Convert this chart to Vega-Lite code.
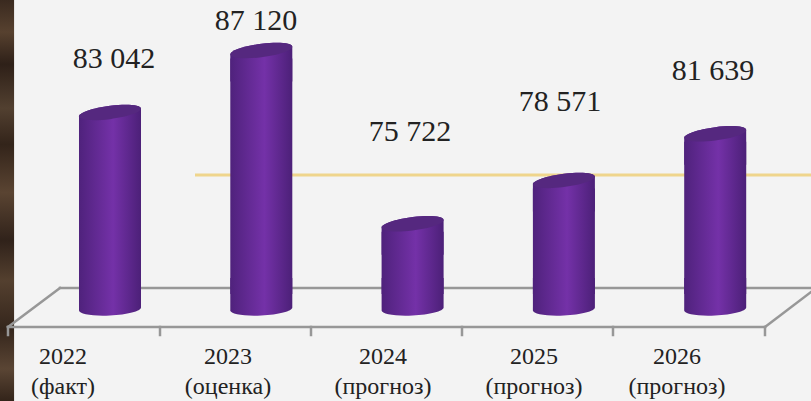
{"$schema":"https://vega.github.io/schema/vega-lite/v6.json","width":811,"height":401,"padding":0,"autosize":"none","background":"#f3f3f3","config":{"view":{"stroke":null}},
"datasets":{
"bars":[{"x":0,"y":83042,"base":70115,"lx":0.0264,"ly":86562,"label":"83 042"},{"x":1,"y":87120,"base":70115,"lx":0.965,"ly":89062,"label":"87 120"},{"x":2,"y":75722,"base":70115,"lx":1.9828,"ly":81759,"label":"75 722"},{"x":3,"y":78571,"base":70115,"lx":2.9742,"ly":83733,"label":"78 571"},{"x":4,"y":81639,"base":70115,"lx":3.9855,"ly":85772,"label":"81 639"}],
"strip":[{"x":-0.72703,"x2":-0.634,"y":90443,"y2":64061}],
"floor":[{"seg":"back","x":-0.3305,"y":71496},{"seg":"back","x":4.6332,"y":71496},{"seg":"front","x":-0.6742,"y":68930},{"seg":"front","x":4.3291,"y":68930},{"seg":"left","x":-0.6742,"y":68930},{"seg":"left","x":-0.3305,"y":71496},{"seg":"right","x":4.3291,"y":68930},{"seg":"right","x":4.6332,"y":71233},{"seg":"t0","x":-0.6742,"y":68930},{"seg":"t0","x":-0.6742,"y":68403},{"seg":"t1","x":0.3305,"y":68930},{"seg":"t1","x":0.3305,"y":68403},{"seg":"t2","x":1.3285,"y":68930},{"seg":"t2","x":1.3285,"y":68403},{"seg":"t3","x":2.3265,"y":68930},{"seg":"t3","x":2.3265,"y":68403},{"seg":"t4","x":3.3245,"y":68930},{"seg":"t4","x":3.3245,"y":68403},{"seg":"t5","x":4.3291,"y":68930},{"seg":"t5","x":4.3291,"y":68403}],
"gold":[{"x":0.5618,"y":78930},{"x":4.6332,"y":78930}],
"cats":[{"x":-0.3106,"y":66956,"t":"2022"},{"x":-0.3106,"y":64983,"t":"(факт)"},{"x":0.7799,"y":66956,"t":"2023"},{"x":0.7799,"y":64983,"t":"(оценка)"},{"x":1.8044,"y":66956,"t":"2024"},{"x":1.8044,"y":64983,"t":"(прогноз)"},{"x":2.8024,"y":66956,"t":"2025"},{"x":2.8024,"y":64983,"t":"(прогноз)"},{"x":3.7475,"y":66956,"t":"2026"},{"x":3.7475,"y":64983,"t":"(прогноз)"}]
},
"encoding":{"x":{"field":"x","type":"quantitative","axis":null,"scale":{"domain":[-0.72703,4.63318],"nice":false,"zero":false,"padding":0}},"y":{"field":"y","type":"quantitative","axis":null,"scale":{"domain":[64061,90443],"nice":false,"zero":false}}},
"layer":[
{"data":{"name":"strip"},"mark":{"type":"rect","color":{"gradient":"linear","x1":0,"y1":0,"x2":0,"y2":1,"stops":[{"offset":0,"color":"#3a2a1f"},{"offset":0.08,"color":"#57412f"},{"offset":0.16,"color":"#2e2018"},{"offset":0.27,"color":"#524030"},{"offset":0.36,"color":"#33241a"},{"offset":0.48,"color":"#5a4432"},{"offset":0.6,"color":"#30221a"},{"offset":0.7,"color":"#54402f"},{"offset":0.82,"color":"#35261c"},{"offset":0.92,"color":"#5a4534"},{"offset":1,"color":"#33241a"}]}},"encoding":{"x2":{"field":"x2"},"y2":{"field":"y2"}}},
{"data":{"name":"floor"},"mark":{"type":"line","color":"#979797","strokeWidth":2.5,"strokeCap":"square"},"encoding":{"detail":{"field":"seg"},"order":{"value":0}}},
{"data":{"name":"gold"},"mark":{"type":"line","color":"#efd58c","strokeWidth":3}},
{"data":{"name":"bars"},"mark":{"type":"point","filled":true,"opacity":1,"size":3844,"shape":"M1,-1L1,-.05C1,.066,.5523,.182,0,.21C-.5523,.238,-1,.166,-1,.05L-1,-1Z","fill":{"gradient":"linear","x1":0,"y1":0,"x2":1,"y2":0,"stops":[{"offset":0,"color":"#4f227c"},{"offset":0.55,"color":"#7431a8"},{"offset":1,"color":"#4c2078"}]}},"encoding":{"y":{"field":"base","type":"quantitative","axis":null,"scale":{"domain":[64061,90443],"nice":false,"zero":false}}}},
{"data":{"name":"bars"},"mark":{"type":"bar","orient":"vertical","size":62,"yOffset":8,"y2Offset":-15,"fill":{"gradient":"linear","x1":0,"y1":0,"x2":1,"y2":0,"stops":[{"offset":0,"color":"#4f227c"},{"offset":0.55,"color":"#7431a8"},{"offset":1,"color":"#4c2078"}]}},"encoding":{"y2":{"field":"base"}}},
{"data":{"name":"bars"},"mark":{"type":"point","filled":true,"opacity":1,"size":3844,"shape":"M1,-.125C1,-.244,.5523,-.284,0,-.215C-.5523,-.146,-1,.006,-1,.125L-1,1L1,1Z","fill":{"gradient":"linear","x1":0,"y1":0,"x2":1,"y2":0,"stops":[{"offset":0,"color":"#4f227c"},{"offset":0.55,"color":"#7431a8"},{"offset":1,"color":"#4c2078"}]}}},
{"data":{"name":"bars"},"mark":{"type":"point","filled":true,"opacity":1,"size":3844,"shape":"M1,-.125C1,-.244,.5523,-.284,0,-.215C-.5523,-.146,-1,.006,-1,.125C-1,.244,-.5523,.284,0,.215C.5523,.146,1,-.006,1,-.125Z","fill":"#55287f"}},
{"data":{"name":"bars"},"mark":{"type":"text","font":"Liberation Serif","fontSize":30,"color":"#222222","align":"center","baseline":"middle"},"encoding":{"x":{"field":"lx","type":"quantitative","axis":null,"scale":{"domain":[-0.72703,4.63318],"nice":false,"zero":false,"padding":0}},"y":{"field":"ly","type":"quantitative","axis":null,"scale":{"domain":[64061,90443],"nice":false,"zero":false}},"text":{"field":"label"}}},
{"data":{"name":"cats"},"mark":{"type":"text","font":"Liberation Serif","fontSize":24,"color":"#222222","align":"center","baseline":"middle"},"encoding":{"text":{"field":"t"}}}
]}
